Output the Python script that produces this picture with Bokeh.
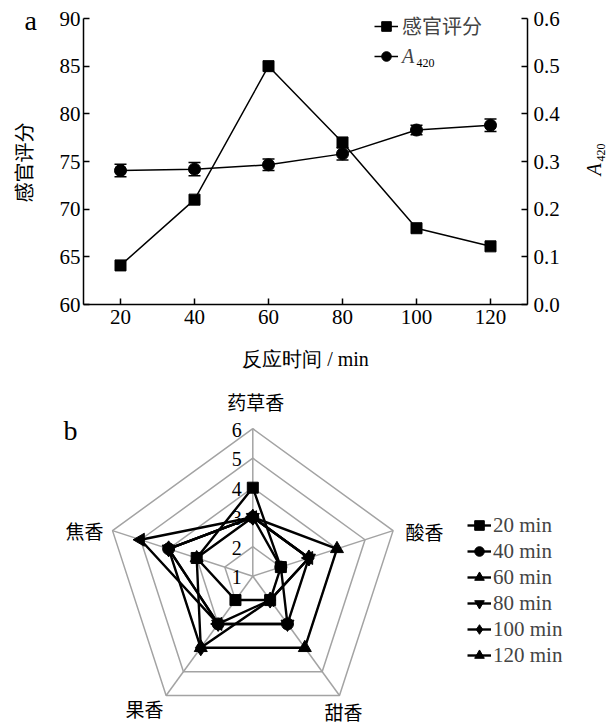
import math
from bokeh.plotting import figure
from bokeh.models import (Range1d, LinearAxis, FixedTicker, PrintfTickFormatter, Whisker,
                          TeeHead, ColumnDataSource, Legend, LegendItem, Label)
from bokeh.layouts import column, row
from bokeh.embed import file_html
from bokeh.resources import INLINE
from bokeh.core.properties import value

# ---------------- data ----------------
time_min = [20, 40, 60, 80, 100, 120]
sensory_score = [64.1, 71.0, 85.0, 77.0, 68.0, 66.1]
a420 = [0.281, 0.284, 0.293, 0.316, 0.366, 0.376]
a420_err = [0.013, 0.014, 0.012, 0.013, 0.010, 0.013]
x_ticks = [20, 40, 60, 80, 100, 120]
left_ticks = [60, 65, 70, 75, 80, 85, 90]
right_ticks = [0.0, 0.1, 0.2, 0.3, 0.4, 0.5, 0.6]

aroma_axes = ["药草香", "酸香", "甜香", "果香", "焦香"]
radar_names = ["20 min", "40 min", "60 min", "80 min", "100 min", "120 min"]
radar_20 = [4, 2, 2, 2, 3]
radar_40 = [3, 2, 3, 3, 4]
radar_60 = [3, 4, 4, 4, 3]
radar_80 = [3, 3, 3, 3, 4]
radar_100 = [3, 3, 2, 4, 4]
radar_120 = [3, 3, 2, 3, 5]
radar_ticks = [1, 2, 3, 4, 5, 6]

SERIF = "Liberation Serif"
CJK = "Noto Sans CJK SC"

W = 613
H1 = 380
LW, RW = 50, 50            # side strips holding the outer texts of panel a
FL, FR, FT, FB = 83, 86, 18, 76   # axis box of panel a in page pixels
fb = H1 - FB                # frame bottom (page px)


def strip(width):
    s = figure(width=width, height=H1, x_range=Range1d(0, width), y_range=Range1d(0, H1),
               output_backend="svg", toolbar_location=None, x_axis_type=None,
               y_axis_type=None, min_border=0, frame_align=False)
    s.outline_line_color = None
    s.grid.visible = False
    return s


# ---------------- panel a ----------------
y_lo, y_hi = left_ticks[0], left_ticks[-1]
y_top = y_hi + FT * (y_hi - y_lo) / (fb - FT)
r_lo, r_hi = right_ticks[0], right_ticks[-1]
r_top = r_hi + FT * (r_hi - r_lo) / (fb - FT)

p1 = figure(width=W - LW - RW, height=H1, x_range=Range1d(10, 130), y_range=Range1d(y_lo, y_top),
            output_backend="svg", toolbar_location=None, frame_align=False,
            min_border_left=FL - LW, min_border_right=FR - RW,
            min_border_top=0, min_border_bottom=FB)
p1.extra_y_ranges = {"a": Range1d(r_lo, r_top)}
p1.outline_line_color = None
p1.grid.visible = False

right_axis = LinearAxis(y_range_name="a")
p1.add_layout(right_axis, "right")

p1.xaxis.ticker = FixedTicker(ticks=x_ticks)
p1.yaxis[0].ticker = FixedTicker(ticks=left_ticks)
right_axis.ticker = FixedTicker(ticks=right_ticks)
right_axis.formatter = PrintfTickFormatter(format="%.1f")
p1.yaxis[0].bounds = (y_lo, y_hi)
right_axis.bounds = (r_lo, r_hi)

for ax in [p1.xaxis[0], p1.yaxis[0], right_axis]:
    ax.major_tick_in = 6
    ax.major_tick_out = 0
    ax.minor_tick_in = 0
    ax.minor_tick_out = 0
    ax.axis_line_width = 1.5
    ax.major_tick_line_width = 1.5
    ax.axis_line_color = "black"
    ax.major_tick_line_color = "black"
    ax.major_label_text_font = SERIF
    ax.major_label_text_font_size = "21px"
    ax.major_label_text_color = "black"
p1.xaxis.major_label_standoff = 5
p1.yaxis[0].major_label_standoff = 3
right_axis.major_label_standoff = 6

p1.xaxis.axis_label = "反应时间 / min"
p1.xaxis.axis_label_text_font = SERIF
p1.xaxis.axis_label_text_font_size = "20px"
p1.xaxis.axis_label_text_font_style = "normal"
p1.xaxis.axis_label_text_color = "black"
p1.xaxis.axis_label_standoff = 21

l1 = p1.line(time_min, sensory_score, line_color="black", line_width=1.5)
s1 = p1.scatter(time_min, sensory_score, marker="square", size=11, color="black")

src = ColumnDataSource(dict(x=time_min, y=a420,
                            upper=[v + e for v, e in zip(a420, a420_err)],
                            lower=[v - e for v, e in zip(a420, a420_err)]))
wh = Whisker(source=src, base="x", upper="upper", lower="lower", y_range_name="a",
             line_color="black", line_width=1.5,
             upper_head=TeeHead(size=12, line_width=1.5, line_color="black"),
             lower_head=TeeHead(size=12, line_width=1.5, line_color="black"))
p1.add_layout(wh)
l2 = p1.line("x", "y", source=src, y_range_name="a", line_color="black", line_width=1.5)
s2 = p1.scatter("x", "y", source=src, y_range_name="a", marker="circle", size=12, color="black")

leg_common = dict(padding=0, margin=0, spacing=0, border_line_color=None,
                  background_fill_alpha=0, glyph_width=24, glyph_height=24,
                  label_height=24, label_standoff=4, label_text_font_size="20px")
# tuple location = bottom-left corner of the legend, measured from frame bottom-left
leg1 = Legend(items=[LegendItem(label="感官评分", renderers=[l1, s1])],
              location=(374 - FL, fb - 40), label_text_font=CJK, **leg_common)
leg2 = Legend(items=[LegendItem(label="A", renderers=[l2, s2])],
              location=(374 - FL, fb - 68), label_text_font=SERIF,
              label_text_font_style="italic", **leg_common)
p1.add_layout(leg1, "center")
p1.add_layout(leg2, "center")
p1.add_layout(Label(x=416 - FL, y=fb - 62, x_units="screen", y_units="screen", text="420",
                    text_font=SERIF, text_font_size="12px", text_baseline="middle",
                    text_color="black"))

# left strip: panel letter and left axis title
pl = strip(LW)
pl.text(x=[24], y=[H1 - 20], text=["a"], text_font=value(SERIF), text_font_size="28px",
        text_baseline="middle", text_align="left", text_color="black")
pl.text(x=[23], y=[H1 - 162], text=["感官评分"], text_font=value(CJK), text_font_size="20px",
        text_baseline="middle", text_align="center", angle=math.pi / 2, text_color="black")

# right strip: right axis title A420
pr = strip(RW)
x0r = W - RW
pr.text(x=[593 - x0r], y=[H1 - 169], text=["A"], text_font=value(SERIF), text_font_size="20px",
        text_font_style="italic", text_baseline="middle", text_align="center",
        angle=math.pi / 2, text_color="black")
pr.text(x=[600 - x0r], y=[H1 - 152], text=["420"], text_font=value(SERIF), text_font_size="12px",
        text_baseline="middle", text_align="center", angle=math.pi / 2, text_color="black")

# ---------------- panel b (radar) ----------------
H2 = 725 - H1
CX, CY = 252.3, 575.7 - H1
UNIT = 29.5  # px per score unit, score 1 at centre
p2 = figure(width=W, height=H2,
            x_range=Range1d(-CX, W - CX), y_range=Range1d(-(H2 - CY), CY),
            output_backend="svg", toolbar_location=None, frame_align=False,
            x_axis_type=None, y_axis_type=None, min_border=0)
p2.outline_line_color = None
p2.grid.visible = False

n = len(aroma_axes)
angles = [math.pi / 2 - 2 * math.pi * i / n for i in range(n)]


def polar(vals):
    xs = [(v - radar_ticks[0]) * UNIT * math.cos(a) for v, a in zip(vals, angles)]
    ys = [(v - radar_ticks[0]) * UNIT * math.sin(a) for v, a in zip(vals, angles)]
    return xs, ys


GRAY = "#a3a3a3"
ring_xs, ring_ys = [], []
for t in radar_ticks[1:]:
    xs, ys = polar([t] * n)
    ring_xs.append(xs + [xs[0]])
    ring_ys.append(ys + [ys[0]])
p2.multi_line(ring_xs, ring_ys, line_color=GRAY, line_width=1.5)
ox, oy = polar([radar_ticks[-1]] * n)
p2.segment(x0=[0] * n, y0=[0] * n, x1=ox, y1=oy, line_color=GRAY, line_width=1.5)

tick_y = [(t - radar_ticks[0]) * UNIT - 1 for t in radar_ticks]
p2.text(x=[-11] * len(radar_ticks), y=tick_y, text=[str(t) for t in radar_ticks],
        text_font=value(SERIF), text_font_size="20px", text_align="right",
        text_baseline="middle", text_color="black")

cat_x = [3, 405 - CX, 343 - CX, 144 - CX, 103 - CX]
cat_y = [CY - (401 - H1), CY - (531 - H1), CY - (711 - H1), CY - (708 - H1), CY - (530 - H1)]
cat_align = ["center", "left", "center", "center", "right"]
for cx, cy, txt, al in zip(cat_x, cat_y, aroma_axes, cat_align):
    p2.text(x=[cx], y=[cy], text=[txt], text_font=value(CJK), text_font_size="19px",
            text_align=al, text_baseline="middle", text_color="black")

series = [radar_20, radar_40, radar_60, radar_80, radar_100, radar_120]
markers = [("square", 11, 0.0), ("circle", 12, 0.0), ("triangle", 13, 0.0),
           ("inverted_triangle", 13, 0.0), ("diamond", 16, 0.0), ("triangle", 13, math.pi / 2)]
items = []
for name, vals, (mk, sz, ang) in zip(radar_names, series, markers):
    xs, ys = polar(vals)
    ln = p2.line(xs + [xs[0]], ys + [ys[0]], line_color="black", line_width=2.4)
    sc = p2.scatter(xs, ys, marker=mk, size=sz, angle=ang, color="black")
    items.append(LegendItem(label=name, renderers=[ln, sc]))

leg3 = Legend(items=items, location=(467, 57), padding=0, margin=0,
              spacing=0, border_line_color=None, background_fill_alpha=0,
              glyph_width=24, glyph_height=26, label_height=26, label_standoff=2,
              label_text_font=SERIF, label_text_font_size="21px")
p2.add_layout(leg3, "center")

p2.text(x=[63 - CX], y=[CY - (430 - H1)], text=["b"], text_font=value(SERIF),
        text_font_size="28px", text_align="left", text_baseline="middle", text_color="black")

layout = column(row(pl, p1, pr, spacing=0), p2, spacing=0)
open("out.html", "w").write(file_html(layout, INLINE))
